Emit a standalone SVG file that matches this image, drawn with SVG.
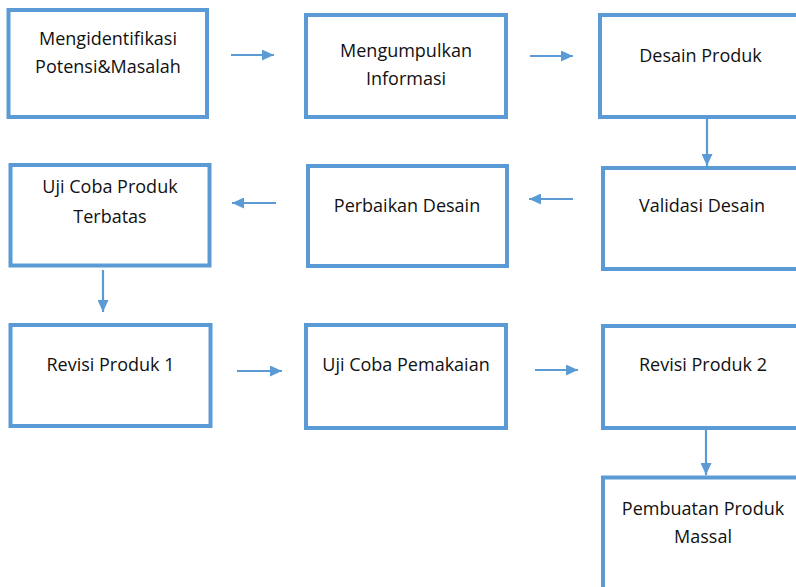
<svg xmlns="http://www.w3.org/2000/svg" width="796" height="587" viewBox="0 0 796 587">
<style>
.box{fill:#fff;stroke:#5B9BD5;stroke-width:4}
.lbl{font-family:"Open Sans","Liberation Sans",sans-serif;font-size:18px;fill:#111;text-anchor:middle}
.con{stroke:#5B9BD5;stroke-width:2.2;fill:none;marker-end:url(#ah)}
</style>
<defs>
<marker id="ah" markerUnits="userSpaceOnUse" markerWidth="12" markerHeight="11" refX="12" refY="5.5" orient="auto">
<path d="M0,0 L12,5.5 L0,11 z" fill="#5B9BD5"/>
</marker>
</defs>
<rect width="796" height="587" fill="#fff"/>
<g id="connectors">
<line class="con" x1="231" y1="55" x2="274" y2="55"/>
<line class="con" x1="530" y1="56" x2="573" y2="56"/>
<line class="con" x1="707" y1="117" x2="707" y2="166"/>
<line class="con" x1="573" y1="199" x2="529" y2="199"/>
<line class="con" x1="276" y1="203" x2="232" y2="203"/>
<line class="con" x1="103" y1="270" x2="103" y2="312"/>
<line class="con" x1="237" y1="371" x2="282" y2="371"/>
<line class="con" x1="535" y1="370" x2="578" y2="370"/>
<line class="con" x1="706" y1="430" x2="706" y2="475"/>
</g>
<g id="n1"><rect class="box" x="8.5" y="10" width="198.5" height="107"/>
<text class="lbl" x="108" y="45">Mengidentifikasi</text><text class="lbl" x="108" y="72.5">Potensi&amp;Masalah</text></g>
<g id="n2"><rect class="box" x="306" y="15" width="200" height="102"/>
<text class="lbl" x="406" y="56.5">Mengumpulkan</text><text class="lbl" x="406" y="84.5">Informasi</text></g>
<g id="n3"><rect class="box" x="600" y="15" width="210" height="102"/>
<text class="lbl" x="700.5" y="61.5">Desain Produk</text></g>
<g id="n4"><rect class="box" x="603" y="168" width="210" height="101"/>
<text class="lbl" x="702" y="212">Validasi Desain</text></g>
<g id="n5"><rect class="box" x="308" y="166" width="199" height="100"/>
<text class="lbl" x="407" y="211.5">Perbaikan Desain</text></g>
<g id="n6"><rect class="box" x="10.5" y="165" width="199" height="100.5"/>
<text class="lbl" x="110" y="193">Uji Coba Produk</text><text class="lbl" x="110" y="222.5">Terbatas</text></g>
<g id="n7"><rect class="box" x="10.5" y="325" width="200" height="101"/>
<text class="lbl" x="110.5" y="370.5">Revisi Produk 1</text></g>
<g id="n8"><rect class="box" x="306" y="325" width="200" height="103"/>
<text class="lbl" x="406" y="370.5">Uji Coba Pemakaian</text></g>
<g id="n9"><rect class="box" x="603" y="326" width="210" height="102"/>
<text class="lbl" x="703" y="371">Revisi Produk 2</text></g>
<g id="n10"><rect class="box" x="603" y="477.5" width="210" height="150"/>
<text class="lbl" x="703" y="515">Pembuatan Produk</text><text class="lbl" x="703" y="543">Massal</text></g>
</svg>
